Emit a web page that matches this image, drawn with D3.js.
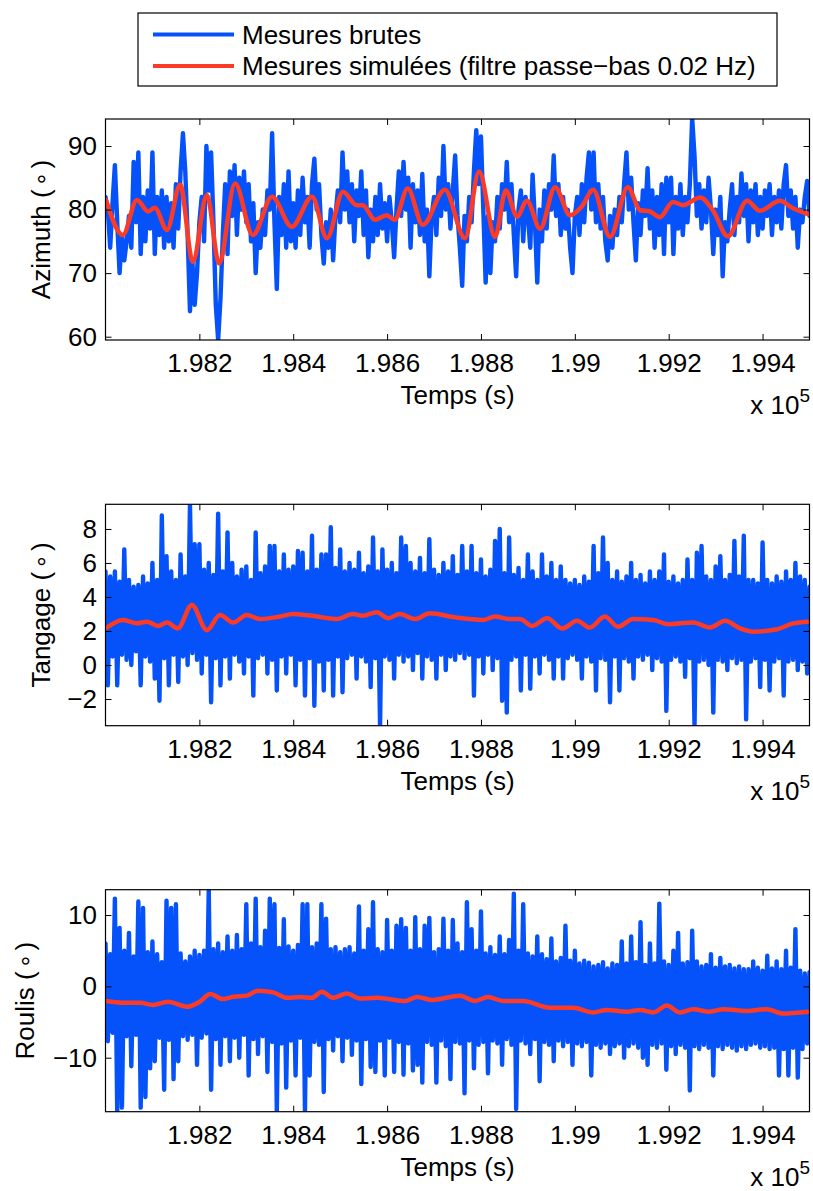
<!DOCTYPE html>
<html><head><meta charset="utf-8">
<script src="https://cdn.jsdelivr.net/npm/d3@7"></script>
<style>
body{margin:0;background:#fff}
svg{display:block}
text{font-family:"Liberation Sans",Arial,Helvetica,sans-serif;fill:#000}
</style>
</head><body>
<svg id="chart" width="813" height="1191"></svg>
<script>
// ---------- DATA ----------
const timeStart = 198000;          // s, first raw sample
const timeStep = 5;                // s between raw samples
const timeDomain = [198000, 199500];
const xTickValues = [198200, 198400, 198600, 198800, 199000, 199200, 199400];
const xTickLabels = ["1.982", "1.984", "1.986", "1.988", "1.99", "1.992", "1.994"];
const seriesNames = ["Mesures brutes", "Mesures simulées (filtre passe\u2212bas 0.02 Hz)"];
const yLabels = ["Azimuth", "Tangage", "Roulis"];
const azimuthTicks = [60, 70, 80, 90];
const tangageTicks = [-2, 0, 2, 4, 6, 8];
const roulisTicks = [-10, 0, 10];

const azimuthRaw = [
82,80,74,81,87,78,70,76,72,75,
79,74,87.5,78,89,73,82,75,83,77,
89,73,82,76,83,74,82,75,81,74,
84,77,86,92,86,76,64,72,65,70,
78,82,75,90,83,89,78,65,59.5,66,
76,84,73,86,79,87,76,85,80,86,
78,84,75,81,70,78,74,80,76,83,
80,92,78,67.5,82,76,84,74,86,75,
81,74,83,76,85,78,82,74,84,88,
80,84,76,71.5,78,74,80,72,79,83,
78,89,80,86,78,84,75,83,79,86,
76,83,72.5,80,75,82,76,84,77,81,
75,82,78,72.5,80,86,79,87.5,80,85,
74,84,78,83,76,85.6,75,80,69.5,79,
82,76,85,79,90,80,84,77,83,88.5,
79,74,68,79,75,82,78,86,92.5,84,
91.5,80,68.5,79,70,78,75,82,77,84,
80,87.5,78,84,76,69.5,80,83,75,82,
79,74,85.5,78,68.5,80,75,83,77,84,
80,88.5,79,84,76,82,77,80,74,70,
79,82,76,84,78,85,89,80,89,78,
84,77,82,75,72,79,74,80,76,82,
78,84,89,80,85,78,72,81,76,83,
79,86.5,77,83,74,82,76,84,73,85,
78,85,73,82,77,84,76,82,78,84,
94.4,88.5,79,84,77,83,78,85,80,73,
80,76,82,69.5,78,75,80,84,76,82,
78,85.7,79,84,75,83,78,84,76,82,
77,83,79,84,76,82,78,83,77,84,
87,79,83,77,82,74,80,78,82,84.5,79
];
const azimuthFiltTime = [198001,198037,198067,198091,198105,198131,198159,198186,198216,198242,198276,198314,198355,198397,198440,198472,198506,198535,198548,198574,198599,198616,198644,198676,198723,198766,198796,198830,198853,198877,198898,198926,198958,198990,199015,199039,199075,199113,199139,199160,199181,199209,199230,199267,199294,199326,199367,199394,199437,199465,199497];
const azimuthFilt = [81.5,76,81.5,79.7,80.3,76.8,83.9,71.8,82.3,71.5,84.1,76,82,77.3,82,75.5,82.8,80.7,80.7,78.4,79.1,78.4,83.3,77.6,83.1,75.5,86,75.7,83,78.9,81.4,77,83.5,79.1,80.5,83.1,75.7,83.5,79.9,79.7,78.8,81.2,80.7,81.9,79.9,75.8,81.4,79.8,81.4,80.2,79.3];

const tangageRaw = [
5.5,-1.2,5.2,0.5,5.5,-1.2,4.9,0.6,6.8,0.3,5.0,0.0,4.6,0.8,4.7,-1.2,5.2,0.5,4.8,0.2,
6.0,-0.8,5.0,-2.1,8.8,0.4,6.4,-1.2,5.5,0.6,5.0,-1.0,6.5,0.5,5.2,0.0,9.45,0.7,7.1,0.3,
7.1,-0.5,5.6,0.6,6.0,-2.2,5.3,0.4,8.9,-1.2,5.5,0.5,7.8,-0.8,6.0,0.6,5.2,0.2,5.6,-0.5,
5.8,0.5,5.0,-1.8,7.8,0.4,5.4,0.6,5.8,-0.5,7.0,0.3,7.0,-1.5,5.5,0.5,6.5,-0.5,5.6,0.6,
5.8,-1.2,6.7,0.3,6.6,-1.8,5.5,0.4,7.6,-2.4,5.6,0.2,6.5,-1.5,6.5,0.3,8.1,-1.8,5.7,0.5,
6.8,-1.6,5.5,0.4,6.0,0.6,5.6,-0.8,6.6,0.5,5.4,0.2,5.8,-1.3,7.5,0.4,5.5,-3.6,6.8,0.5,
5.6,0.3,6.0,-0.8,5.4,0.6,7.5,0.2,7.0,0.5,6.0,-0.3,5.5,0.7,6.3,-0.8,5.4,0.5,7.4,0.3,
5.6,-0.8,5.3,0.6,6.0,-0.3,5.5,0.5,6.4,0.3,5.3,0.7,7.0,0.4,5.5,0.6,7.0,-1.8,5.4,0.5,
6.2,-0.5,5.2,0.6,5.6,-0.3,7.3,0.4,8.0,-2.1,5.4,-2.8,7.5,0.3,5.3,0.5,5.7,-1.5,5.0,0.6,
6.5,-1.4,5.5,0.5,5.0,-0.5,6.5,0.6,5.2,0.3,6.0,-0.8,5.0,0.5,5.8,-0.8,5.0,0.4,4.8,0.6,
5.0,0.3,4.7,-0.8,5.2,0.5,4.9,0.2,7.0,-1.5,5.4,0.4,7.5,0.3,6.0,-2.2,5.0,0.5,5.5,-1.5,
4.9,0.4,5.2,0.2,6.0,-0.8,5.0,0.5,5.3,0.3,4.8,0.6,5.5,-0.3,5.0,0.4,5.5,0.2,6.5,-2.7,
4.9,0.3,5.2,0.5,4.8,0.2,5.0,-0.7,6.2,0.4,5.0,-3.6,6.6,0.2,7.0,0.3,5.2,0.0,5.0,-2.8,
5.8,0.3,6.4,0.2,5.0,-0.3,5.3,0.4,7.3,0.1,5.2,0.3,7.6,-3.2,5.0,0.2,5.0,0.4,4.8,-1.3,
7.2,0.3,5.0,-1.5,4.8,0.2,5.2,0.4,4.9,-1.8,5.5,0.2,5.0,0.3,6.0,-0.3,5.2,0.2,5.0,-0.5,
4.6
];
const tangageFiltTime = [198001,198037,198067,198088,198112,198131,198154,198184,198216,198244,198272,198301,198329,198372,198400,198451,198493,198527,198548,198578,198602,198627,198659,198691,198745,198804,198830,198862,198883,198909,198941,198973,199005,199032,199064,199092,199124,199167,199198,199252,199288,199320,199352,199380,199431,199465,199497];
const tangageFilt = [2.16,2.65,2.45,2.55,2.3,2.5,2.15,3.53,2.05,2.94,2.5,2.94,2.7,2.85,3.0,2.85,2.7,3.0,2.9,3.1,2.75,3.0,2.7,3.04,2.8,2.65,2.85,2.7,2.7,2.3,2.75,2.15,2.6,2.2,2.85,2.25,2.7,2.65,2.4,2.5,2.2,2.6,2.15,1.96,2.1,2.45,2.55];

const roulisRaw = [
6,-7.7,4.5,-6.5,12.3,-17.6,8.2,-17,5,-7.0,7.5,-11.2,4.2,-6.8,11.9,-17,11,-15.5,4.8,-11.5,
6.3,-10.5,4.5,-7.2,3.4,-14.5,12,-7.5,11,-13,11.5,-10.5,4.6,-7.0,3.5,-7.5,4.2,-6.8,5,-11,
4.4,-7.2,5.0,-6.6,13.55,-14.5,5.2,-7.4,6,-11,4.8,-7.0,7,-10.5,5.0,-7.2,7.2,-10,5.2,-6.8,
11.5,-12.5,6.0,-7.4,12.3,-9.5,5.5,-7.0,7.8,-12,12.3,-7.8,11.5,-17.5,5.4,-8.0,9.4,-14.2,5.6,-7.6,
5,-12.5,5.8,-7.2,11.5,-17.5,11.5,-12.5,5.5,-7.8,6.0,-8.2,11.5,-14.8,9.5,-7.4,5.2,-9,5.5,-7.0,
4.8,-10.5,5.2,-7.2,5.5,-9.6,4.6,-7.6,11.2,-13.7,5.0,-7.4,8,-11.3,11.8,-12,5.2,-7.6,4.8,-12.5,
9.3,-7.2,5.0,-12,8.5,-7.8,9.4,-12.4,8.2,-8.0,5.0,-11.8,9.7,-11,5.2,-13.5,8.5,-7.8,9.6,-8.2,
4.8,-13.5,5.2,-7.6,9.5,-8.4,5.0,-13,9.3,-7.8,6,-8.0,4.8,-15,11.8,-7.6,8,-11.5,5.0,-8.2,
10.5,-7.8,4.6,-12.2,5.5,-7.6,4.4,-8.0,7,-11,4.5,-7.4,6.5,-8.2,13,-17.2,5.0,-7.6,11.5,-8.0,
4.6,-9.5,4.2,-7.4,7,-13.3,4.5,-7.8,3.8,-8.2,6.7,-10.5,3.5,-7.6,4.0,-8.4,8.5,-7.8,3.6,-11,
5,-8.0,3.2,-8.4,3.6,-7.8,3.3,-12.5,2.8,-8.2,3,-8.6,3.4,-8.0,2.5,-9.5,3.2,-8.4,3.0,-8.0,
6.3,-10,3.2,-8.4,7,-8.0,3.4,-8.6,9,-10,3.0,-11,6,-8.2,3.2,-8.6,11.6,-8.0,3.5,-11.7,
3.0,-8.4,5,-9.5,7.5,-8.2,3.2,-8.6,3.4,-14.6,7.8,-8.4,3.5,-8.8,2.8,-8.2,3.0,-8.6,4.5,-12.5,
2.6,-8.4,4.0,-8.8,2.8,-8.2,3,-8.6,2.5,-9,2.8,-8.4,2.4,-8.8,2.4,-8.2,3.5,-8,2.6,-8.6,
2.2,-8.4,4.3,-8.8,2.5,-8.6,3.5,-12.5,2.4,-8.8,5,-12.5,2.6,-8.6,8,-12.8,2.2,-8.8,1.8,-8,
2.0
];
const roulisFiltTime = [198001,198037,198074,198101,198133,198174,198201,198223,198250,198272,198301,198325,198357,198387,198414,198440,198461,198485,198514,198542,198578,198606,198638,198664,198696,198755,198787,198815,198847,198890,198947,198996,199039,199068,199111,199139,199167,199196,199224,199252,199288,199316,199367,199409,199443,199497];
const roulisFilt = [-2.06,-2.3,-2.3,-2.6,-2.15,-2.85,-2.15,-1.07,-1.78,-1.45,-1.3,-0.6,-0.84,-1.6,-1.5,-1.6,-0.75,-1.6,-1.0,-1.7,-1.6,-1.8,-2.05,-1.5,-1.9,-1.3,-2.05,-1.5,-2.05,-2.05,-3.0,-3.0,-3.65,-3.3,-3.55,-3.3,-3.65,-2.7,-3.65,-3.2,-3.55,-3.2,-3.45,-3.2,-3.8,-3.55];

// ---------- LAYOUT / STYLE ----------
const blue = "#0552fb", red = "#fb3b26";
const fontSize = 26;
const plotLeft = 105.5, plotRight = 809.5;
const panels = [
  {label: yLabels[0], raw: azimuthRaw, ft: azimuthFiltTime, fv: azimuthFilt, yDomain: [59.48, 94.25], ticks: azimuthTicks, top: 119, bottom: 340, labelX: 50},
  {label: yLabels[1], raw: tangageRaw, ft: tangageFiltTime, fv: tangageFilt, yDomain: [-3.57, 9.45], ticks: tangageTicks, top: 504.3, bottom: 725.7, labelX: 50},
  {label: yLabels[2], raw: roulisRaw, ft: roulisFiltTime, fv: roulisFilt, yDomain: [-17.57, 13.55], ticks: roulisTicks, top: 889.7, bottom: 1111.7, labelX: 34}
];

const svg = d3.select("#chart");
svg.append("rect").attr("width", 813).attr("height", 1191).attr("fill", "#fff");
const x = d3.scaleLinear().domain(timeDomain).range([plotLeft, plotRight]);
const fmtY = d3.format("d");

panels.forEach((p, idx) => {
  const y = d3.scaleLinear().domain(p.yDomain).range([p.bottom, p.top]);
  const g = svg.append("g");
  const clipId = "clip" + idx;
  svg.append("clipPath").attr("id", clipId).append("rect")
    .attr("x", plotLeft).attr("y", p.top)
    .attr("width", plotRight - plotLeft).attr("height", p.bottom - p.top);
  const plot = g.append("g").attr("clip-path", `url(#${clipId})`);

  const rawLine = d3.line().x((d, i) => x(timeStart + i * timeStep)).y(d => y(d));
  plot.append("path").datum(p.raw).attr("d", rawLine)
    .attr("fill", "none").attr("stroke", blue).attr("stroke-width", 4.4)
    .attr("stroke-linejoin", "round").attr("stroke-linecap", "round");

  const filtLine = d3.line().curve(d3.curveMonotoneX).x((d, i) => x(p.ft[i])).y(d => y(d));
  plot.append("path").datum(p.fv).attr("d", filtLine)
    .attr("fill", "none").attr("stroke", red).attr("stroke-width", 4.5)
    .attr("stroke-linejoin", "round").attr("stroke-linecap", "round");

  const styleAxis = sel => {
    sel.select(".domain").remove();
    sel.selectAll(".tick line").attr("stroke", "#000").attr("stroke-width", 1);
    sel.selectAll("text").attr("font-size", fontSize).attr("fill", "#000")
      .attr("font-family", "'Liberation Sans', Arial, Helvetica, sans-serif");
    sel.attr("font-family", null).attr("font-size", null);
  };

  g.append("g").attr("transform", `translate(0,${p.bottom})`)
    .call(d3.axisBottom(x).tickValues(xTickValues).tickFormat((d, i) => xTickLabels[i]).tickSize(-6).tickPadding(14))
    .call(styleAxis);
  g.append("g").attr("transform", `translate(0,${p.top})`)
    .call(d3.axisTop(x).tickValues(xTickValues).tickFormat("").tickSize(-6))
    .call(styleAxis);
  g.append("g").attr("transform", `translate(${plotLeft},0)`)
    .call(d3.axisLeft(y).tickValues(p.ticks).tickFormat(fmtY).tickSize(-6).tickPadding(8.5))
    .call(styleAxis);
  g.append("g").attr("transform", `translate(${plotRight},0)`)
    .call(d3.axisRight(y).tickValues(p.ticks).tickFormat("").tickSize(-6))
    .call(styleAxis);

  g.append("rect").attr("x", plotLeft).attr("y", p.top)
    .attr("width", plotRight - plotLeft).attr("height", p.bottom - p.top)
    .attr("fill", "none").attr("stroke", "#000").attr("stroke-width", 1.2);

  g.append("text").attr("x", (plotLeft + plotRight) / 2).attr("y", p.bottom + 64)
    .attr("text-anchor", "middle").attr("font-size", fontSize).text("Temps (s)");

  const ex = g.append("text").attr("x", 810).attr("y", p.bottom + 74)
    .attr("text-anchor", "end").attr("font-size", fontSize);
  ex.append("tspan").text("x 10");
  ex.append("tspan").attr("font-size", 19).attr("dy", -12).text("5");

  const yl = g.append("text")
    .attr("transform", `translate(${p.labelX},${(p.top + p.bottom) / 2}) rotate(-90)`)
    .attr("text-anchor", "middle").attr("font-size", fontSize);
  yl.append("tspan").text(p.label + " (");
  yl.append("tspan").attr("dy", 6).text("\u2009\u00B0\u2009");
  yl.append("tspan").attr("dy", -6).text(")");
});

// legend
const lg = svg.append("g");
lg.append("rect").attr("x", 138).attr("y", 13).attr("width", 639).attr("height", 73)
  .attr("fill", "#fff").attr("stroke", "#000").attr("stroke-width", 1.2);
[blue, red].forEach((c, i) => {
  const yy = 34.5 + i * 31.5;
  lg.append("line").attr("x1", 153).attr("x2", 234).attr("y1", yy).attr("y2", yy)
    .attr("stroke", c).attr("stroke-width", 4);
  lg.append("text").attr("x", 242).attr("y", yy + 9).attr("font-size", fontSize).text(seriesNames[i]);
});
</script>
</body></html>
